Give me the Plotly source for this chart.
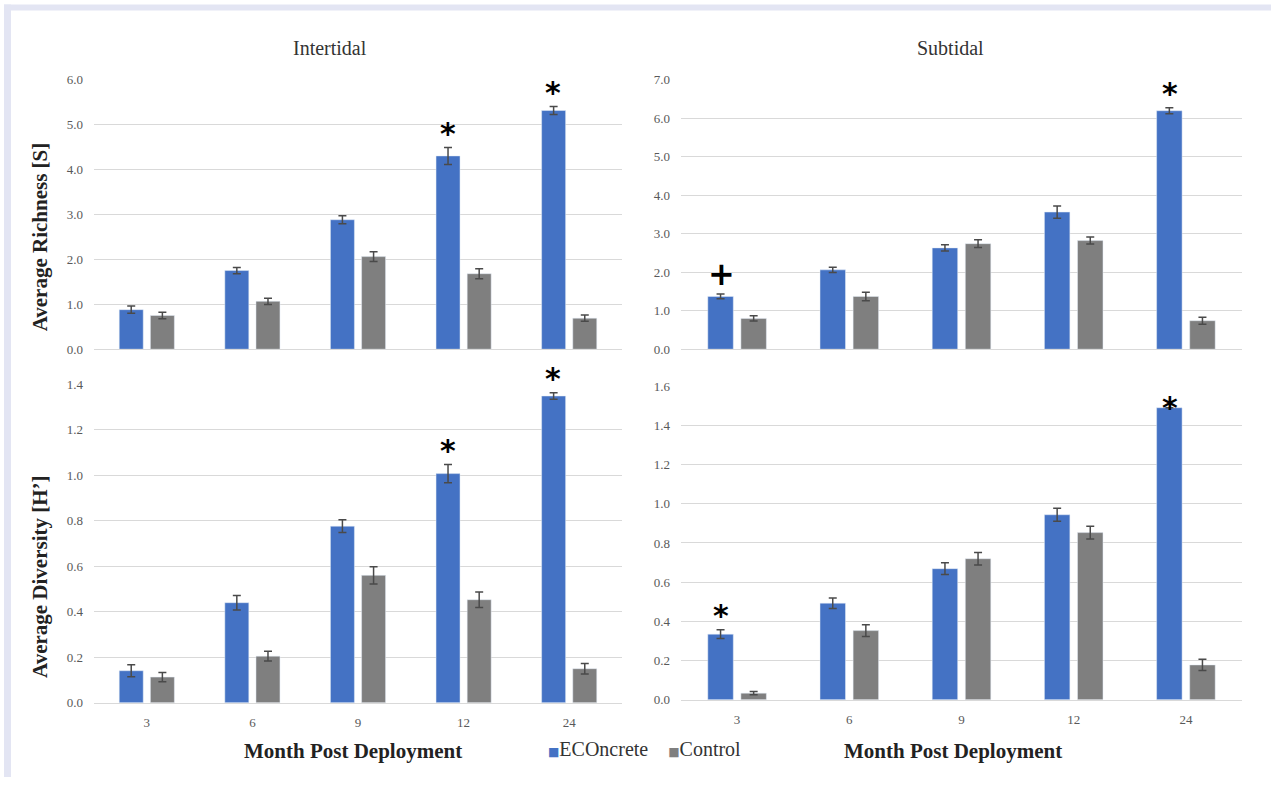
import plotly.graph_objects as go

# ---------------- data ----------------
months = ["3", "6", "9", "12", "24"]

rich_inter_econ = [0.88, 1.75, 2.88, 4.30, 5.31]
rich_inter_econ_err = [0.08, 0.07, 0.09, 0.19, 0.09]
rich_inter_ctrl = [0.75, 1.065, 2.06, 1.68, 0.69]
rich_inter_ctrl_err = [0.07, 0.07, 0.11, 0.11, 0.07]

rich_sub_econ = [1.37, 2.06, 2.63, 3.56, 6.19]
rich_sub_econ_err = [0.06, 0.07, 0.08, 0.16, 0.08]
rich_sub_ctrl = [0.80, 1.37, 2.74, 2.82, 0.74]
rich_sub_ctrl_err = [0.07, 0.11, 0.10, 0.09, 0.09]

div_inter_econ = [0.141, 0.44, 0.776, 1.007, 1.348]
div_inter_econ_err = [0.026, 0.032, 0.028, 0.040, 0.014]
div_inter_ctrl = [0.113, 0.205, 0.56, 0.453, 0.15]
div_inter_ctrl_err = [0.020, 0.021, 0.038, 0.034, 0.023]

div_sub_econ = [0.335, 0.493, 0.669, 0.944, 1.49]
div_sub_econ_err = [0.022, 0.027, 0.030, 0.033, 0.0]
div_sub_ctrl = [0.034, 0.353, 0.72, 0.853, 0.178]
div_sub_ctrl_err = [0.008, 0.030, 0.032, 0.032, 0.029]

# significance marks: (panel, month, symbol)
sig_marks = [
    ("rich_inter", "12", "*"), ("rich_inter", "24", "*"),
    ("rich_sub", "3", "+"), ("rich_sub", "24", "*"),
    ("div_inter", "12", "*"), ("div_inter", "24", "*"),
    ("div_sub", "3", "*"), ("div_sub", "24", "*"),
]

col_titles = ["Intertidal", "Subtidal"]
y_titles = ["Average Richness [S]", "Average Diversity [H’]"]
x_title = "Month Post Deployment"
series_names = ["ECOncrete", "Control"]

# ---------------- layout geometry ----------------
W, H = 1271, 785
def px(x):
    return x / W
def py(y):
    # compensates for the slight vertical offset/scale observed in the capture
    return 1 - ((y - 6.4) / 0.982) / H

BLUE = "#4472C4"
GRAY = "#7F7F7F"
ERRC = "#4a4a4a"
SERIF = "Liberation Serif"

panels = {
    "rich_inter": dict(ax="", e=rich_inter_econ, ee=rich_inter_econ_err, c=rich_inter_ctrl, ce=rich_inter_ctrl_err,
                       xd=[px(94), px(622)], yd=[py(349), py(79)], yr=[0, 6], dt=1, showx=False),
    "rich_sub": dict(ax="2", e=rich_sub_econ, ee=rich_sub_econ_err, c=rich_sub_ctrl, ce=rich_sub_ctrl_err,
                     xd=[px(681), px(1242)], yd=[py(349), py(79)], yr=[0, 7], dt=1, showx=False),
    "div_inter": dict(ax="3", e=div_inter_econ, ee=div_inter_econ_err, c=div_inter_ctrl, ce=div_inter_ctrl_err,
                      xd=[px(94), px(622)], yd=[py(703), py(384)], yr=[0, 1.4], dt=0.2, showx=True),
    "div_sub": dict(ax="4", e=div_sub_econ, ee=div_sub_econ_err, c=div_sub_ctrl, ce=div_sub_ctrl_err,
                    xd=[px(681), px(1242)], yd=[py(700), py(386)], yr=[0, 1.6], dt=0.2, showx=True),
}

fig = go.Figure()
for key, p in panels.items():
    xa = "x" + p["ax"]
    ya = "y" + p["ax"]
    fig.add_trace(go.Bar(
        x=months, y=p["e"], name=series_names[0], marker_color=BLUE,
        error_y=dict(type="data", array=p["ee"], color=ERRC, thickness=1.5, width=4),
        xaxis=xa, yaxis=ya, showlegend=False,
    ))
    fig.add_trace(go.Bar(
        x=months, y=p["c"], name=series_names[1], marker_color=GRAY,
        error_y=dict(type="data", array=p["ce"], color=ERRC, thickness=1.5, width=4),
        xaxis=xa, yaxis=ya, showlegend=False,
    ))
    xkey = "xaxis" + p["ax"]
    ykey = "yaxis" + p["ax"]
    fig.layout[xkey] = dict(
        domain=p["xd"], anchor=ya, type="category", categoryorder="array", categoryarray=months,
        range=[-0.5, len(months) - 0.5], showgrid=False,
        showline=True, linecolor="#d9d9d9", linewidth=1, ticks="", ticklabelstandoff=8,
        showticklabels=p["showx"], tickfont=dict(family=SERIF, size=13, color="#595959"),
        fixedrange=True,
    )
    fig.layout[ykey] = dict(
        domain=p["yd"], anchor=xa, range=p["yr"], dtick=p["dt"], tick0=0,
        tickformat=".1f", showgrid=True, gridcolor="#d9d9d9", gridwidth=1,
        zeroline=False, showline=False, ticks="", ticklabelstandoff=10,
        tickfont=dict(family=SERIF, size=13, color="#595959"),
        fixedrange=True,
    )

annotations = []
# significance marks
for key, m, sym in sig_marks:
    p = panels[key]
    i = months.index(m)
    top = p["e"][i] + p["ee"][i]
    shift = 14 if p["ee"][i] > 0 else 0
    if sym == "+":
        shift = 20
    annotations.append(dict(
        x=i, y=top, xref="x" + p["ax"], yref="y" + p["ax"], text="<b>" + sym + "</b>", showarrow=False,
        xshift=-16, yshift=shift, yanchor="middle",
        font=dict(family="DejaVu Sans", size=30 if sym == "*" else 32, color="#000000"),
    ))

# column titles
for t, cx in zip(col_titles, [330, 950]):
    annotations.append(dict(x=px(cx), y=py(47), xref="paper", yref="paper", text=t, showarrow=False,
                            xanchor="center", yanchor="middle",
                            font=dict(family=SERIF, size=20, color="#333333")))
# x titles
for cx in [353, 953]:
    annotations.append(dict(x=px(cx), y=py(751), xref="paper", yref="paper", text="<b>" + x_title + "</b>",
                            showarrow=False, xanchor="center", yanchor="middle",
                            font=dict(family=SERIF, size=21, color="#222222")))
# y titles
for t, cy in zip(y_titles, [237, 577]):
    annotations.append(dict(x=px(40), y=py(cy), xref="paper", yref="paper", text="<b>" + t + "</b>",
                            showarrow=False, textangle=-90, xanchor="center", yanchor="middle",
                            font=dict(family=SERIF, size=21, color="#222222")))
# legend (compact, as in the original)
legend_text = "&nbsp;&nbsp;&nbsp;&nbsp;".join(
    f"<span style='color:{c}; font-family:DejaVu Sans; font-size:12px'>■</span>{n}"
    for c, n in zip([BLUE, GRAY], series_names)
)
annotations.append(dict(x=px(546), y=py(749), xref="paper", yref="paper", text=legend_text,
                        showarrow=False, xanchor="left", yanchor="middle",
                        font=dict(family=SERIF, size=20, color="#333333")))

shapes = [
    dict(type="rect", xref="paper", yref="paper", x0=px(4), x1=px(11), y0=0, y1=py(4),
         fillcolor="#e3e5f3", line=dict(width=0), layer="below"),
    dict(type="rect", xref="paper", yref="paper", x0=px(4), x1=1, y0=py(10), y1=py(4),
         fillcolor="#e3e5f3", line=dict(width=0), layer="below"),
]

fig.update_layout(
    width=W, height=H, margin=dict(l=0, r=0, t=0, b=0),
    paper_bgcolor="white", plot_bgcolor="white",
    barmode="group", bargap=0.41, bargroupgap=0.23,
    annotations=annotations, shapes=shapes,
    showlegend=False,
)

fig.write_html(
    "out.html",
    config={"displayModeBar": False},
    post_script=("document.documentElement.style.margin='0';document.body.style.margin='0';"
                 "document.body.style.overflow='hidden';document.documentElement.style.overflow='hidden';"),
)
